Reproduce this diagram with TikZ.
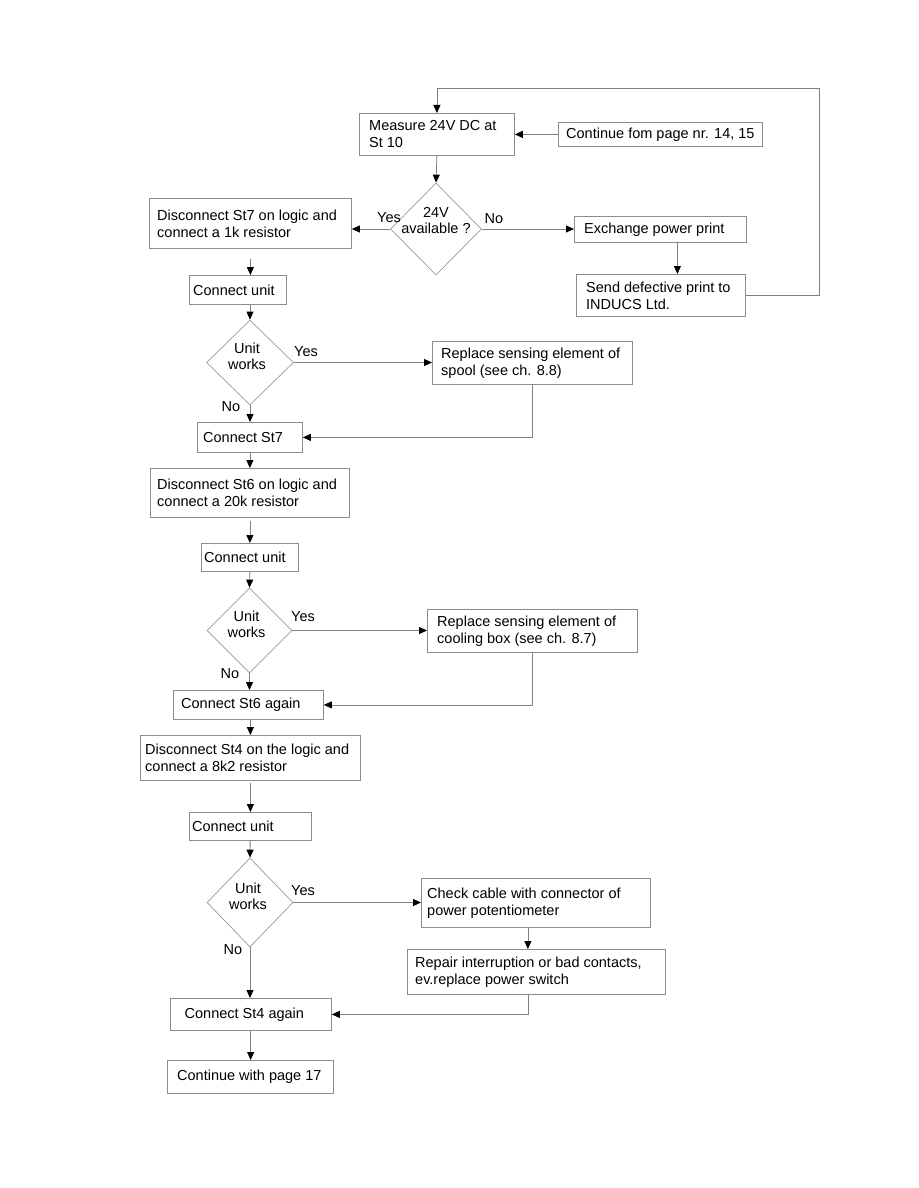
\documentclass[tikz,border=0pt]{standalone}
\usepackage{fontspec}
\setmainfont{Liberation Sans}
\usetikzlibrary{shapes.geometric,arrows.meta}
\begin{document}
\begin{tikzpicture}[x=1pt,y=-1pt,
  every node/.style={font=\fontsize{14.5pt}{17pt}\selectfont},
  box/.style={draw=black!45, line width=0.8pt, rectangle, anchor=north west, inner sep=0pt},
  bt/.style={anchor=west, align=left, inner sep=0pt, text=black},
  dia/.style={draw=black!40, line width=0.7pt, diamond, inner sep=0pt},
  dt/.style={align=center, inner sep=0pt, font=\fontsize{14.5pt}{16pt}\selectfont},
  lab/.style={inner sep=0pt},
  arr/.style={draw=black!50, line width=0.8pt, -{Triangle[length=8pt,width=7pt,color=black]}}]
\useasboundingbox (0,0) rectangle (918,1188);

% boxes
\node[box, minimum width=155pt, minimum height=42pt, label={[bt, xshift=10pt]west:{Measure 24V DC at\\St 10}}] (measure) at (359,113) {};
\node[box, minimum width=204pt, minimum height=24pt, label={[bt, xshift=8pt]west:{Continue fom page nr. 14, 15}}] (cont) at (558,122) {};
\node[box, minimum width=202pt, minimum height=50pt, label={[bt, xshift=8pt]west:{Disconnect St7 on logic and\\connect a 1k resistor}}] (st7dis) at (149,198) {};
\node[box, minimum width=172pt, minimum height=26pt, label={[bt, xshift=10pt]west:{Exchange power print}}] (exch) at (574,216) {};
\node[box, minimum width=169pt, minimum height=42pt, label={[bt, xshift=10pt]west:{Send defective print to\\INDUCS Ltd.}}] (send) at (576,274) {};
\node[box, minimum width=97pt, minimum height=29pt, label={[bt, xshift=4pt]west:{Connect unit}}] (cu1) at (189,275) {};
\node[box, minimum width=200pt, minimum height=43pt, label={[bt, xshift=9pt]west:{Replace sensing element of\\spool (see ch. 8.8)}}] (spool) at (432,341) {};
\node[box, minimum width=105pt, minimum height=30pt, label={[bt, xshift=6pt]west:{Connect St7}}] (cst7) at (197,422) {};
\node[box, minimum width=199pt, minimum height=49pt, label={[bt, xshift=7pt]west:{Disconnect St6 on logic and\\connect a 20k resistor}}] (st6dis) at (150,468) {};
\node[box, minimum width=97pt, minimum height=28pt, label={[bt, xshift=3pt]west:{Connect unit}}] (cu2) at (201,543) {};
\node[box, minimum width=210pt, minimum height=43pt, label={[bt, xshift=10pt]west:{Replace sensing element of\\cooling box (see ch. 8.7)}}] (cool) at (427,609) {};
\node[box, minimum width=150pt, minimum height=29pt, label={[bt, xshift=8pt]west:{Connect St6 again}}] (cst6) at (173,690) {};
\node[box, minimum width=220pt, minimum height=45pt, label={[bt, xshift=5pt]west:{Disconnect St4 on the logic and\\connect a 8k2 resistor}}] (st4dis) at (140,735) {};
\node[box, minimum width=122.5pt, minimum height=28pt, label={[bt, xshift=3.5pt]west:{Connect unit}}] (cu3) at (188.5,812) {};
\node[box, minimum width=229pt, minimum height=49pt, label={[bt, xshift=6pt]west:{Check cable with connector of\\power potentiometer}}] (check) at (421,878) {};
\node[box, minimum width=258pt, minimum height=45pt, label={[bt, xshift=8pt]west:{Repair interruption or bad contacts,\\ev.replace power switch}}] (repair) at (407,949) {};
\node[box, minimum width=161.5pt, minimum height=32pt, label={[bt, xshift=15pt]west:{Connect St4 again}}] (cst4) at (169.5,998) {};
\node[box, minimum width=165.5pt, minimum height=33pt, label={[bt, xshift=10pt]west:{Continue with page 17}}] (cont17) at (167,1060) {};

% decisions
\node[dia, minimum width=91pt, minimum height=92pt, label={[dt, yshift=8pt]center:{24V\\available ?}}] (d1) at (436,229) {};
\node[dia, minimum width=87pt, minimum height=85pt, label={[dt, yshift=6pt, xshift=-3pt]center:{Unit\\works}}] (d2) at (250,362.5) {};
\node[dia, minimum width=85pt, minimum height=85pt, label={[dt, yshift=6pt, xshift=-3pt]center:{Unit\\works}}] (d3) at (249.5,630.5) {};
\node[dia, minimum width=86pt, minimum height=89pt, label={[dt, yshift=6.5pt, xshift=-2pt]center:{Unit\\works}}] (d4) at (250,902.5) {};

% yes / no labels
\node[lab] (y1) at (389,218) {Yes};
\node[lab] (n1) at (494,218.5) {No};
\node[lab] (y2) at (306,352) {Yes};
\node[lab] (n2) at (231,407) {No};
\node[lab] (y3) at (303,617) {Yes};
\node[lab] (n3) at (230,674) {No};
\node[lab] (y4) at (303,891) {Yes};
\node[lab] (n4) at (233,950) {No};

% connectors
\coordinate (lp) at (819,88);
\draw[arr] (send.east) -| (lp) -| (measure.north);
\draw[arr] (cont.west) -- (cont.west -| measure.east);
\draw[arr] (measure.south) -- (d1.north);
\draw[arr] (d1.west) -- (d1.west -| st7dis.east);
\draw[arr] (d1.east) -- (d1.east -| exch.west);
\draw[arr] ([xshift=17pt]exch.south) -- ([xshift=17pt]exch.south |- send.north);
\draw[arr, shorten <=10pt] (st7dis.south) -- (st7dis.south |- cu1.north);
\draw[arr] (d2.north |- cu1.south) -- (d2.north);
\draw[arr] (d2.east) -- (d2.east -| spool.west);
\draw[arr] (d2.south) -- (d2.south |- cst7.north);
\draw[arr] (spool.south) |- (cst7.east);
\draw[arr] (cst7.south) -- (cst7.south |- st6dis.north);
\draw[arr, shorten <=3pt] (st6dis.south) -- (st6dis.south |- cu2.north);
\draw[arr] (cu2.south) -- (d3.north);
\draw[arr] (d3.east) -- (d3.east -| cool.west);
\draw[arr] (d3.south) -- (d3.south |- cst6.north);
\draw[arr] (cool.south) |- (cst6.east);
\draw[arr] (st4dis.north |- cst6.south) -- (st4dis.north);
\draw[arr, shorten <=2pt] (st4dis.south) -- (st4dis.south |- cu3.north);
\draw[arr] (cu3.south) -- (d4.north);
\draw[arr] (d4.east) -- (d4.east -| check.west);
\draw[arr] ([xshift=-8pt]check.south) -- ([xshift=-8pt]check.south |- repair.north);
\draw[arr] ([xshift=-8pt]repair.south) |- (cst4.east);
\draw[arr] (d4.south) -- (d4.south |- cst4.north);
\draw[arr] (cst4.south) -- (cst4.south |- cont17.north);
\end{tikzpicture}
\end{document}
